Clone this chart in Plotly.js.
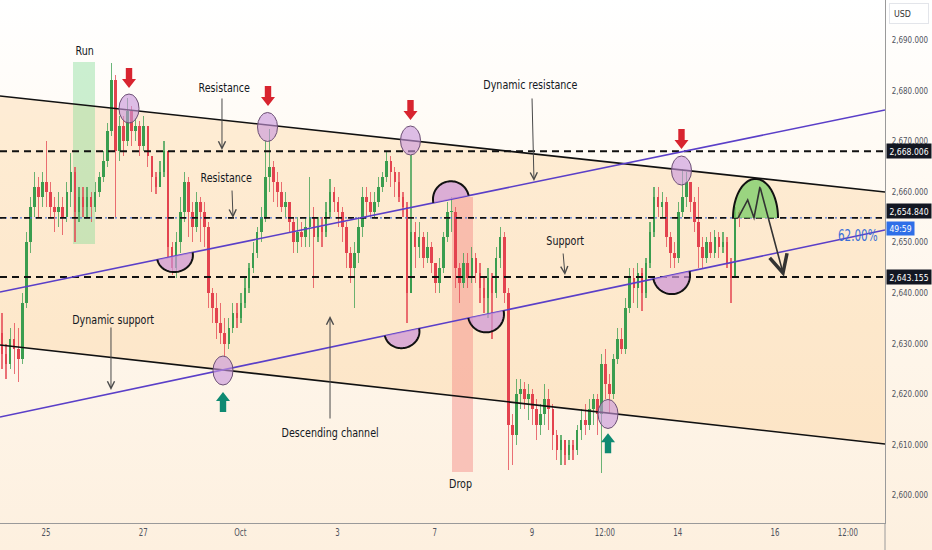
<!DOCTYPE html>
<html><head><meta charset="utf-8">
<script src="https://cdn.plot.ly/plotly-3.0.1.min.js"></script>
<style>
html,body{margin:0;padding:0;background:#fff;}
#chart{width:932px;height:550px;background:linear-gradient(to bottom,#ffffff 0%,#fffbf5 25%,#fdf0df 100%);}
</style></head><body><div id="chart"></div>
<script>
// ---------------- DATA ----------------
// x axis: trading-day index (0 = 25 Sep), weekends removed
const tickDays = [0, 2, 4, 6, 8, 10, 11.5, 13, 15, 16.5];
const tickLabels = ['25', '27', 'Oct', '3', '7', '9', '12:00', '14', '16', '12:00'];
const priceTicks = [2600, 2610, 2620, 2630, 2640, 2650, 2660, 2670, 2680, 2690];

// 2-hour candles (XAUUSD)
const firstBarDay = -0.9053;
const barsPerDay = 12;
const firstOpen = 2632;
const closes = [
 2628,2626,2631,2629,2627,2638,2650,2657,2661,2659,
 2662,2660,2657,2656,2657,2655,2660,2664,2656,2659,
 2657,2659,2657,2660,2663,2666,2672,2682,2668,2673,
 2670,2676,2672,2673,2669,2673,2667,2663,2661,2664,
 2668,2649,2645,2650,2656,2662,2656,2653,2658,2656,
 2653,2640,2637,2634,2632,2630,2633,2636,2635,2638,
 2641,2645,2648,2652,2655,2663,2665,2662,2660,2657,
 2658,2654,2650,2652,2651,2653,2655,2651,2653,2652,
 2656,2660,2658,2656,2653,2648,2645,2648,2653,2659,
 2658,2656,2658,2661,2663,2666,2664,2662,2659,2657,
 2640,2652,2649,2651,2647,2649,2646,2642,2645,2651,
 2656,2656,2645,2642,2646,2643,2647,2644,2641,2639,
 2643,2640,2647,2651,2640,2614,2612,2620,2621,2619,
 2620,2617,2614,2616,2619,2617,2612,2609,2611,2608,
 2610,2609,2613,2615,2614,2617,2619,2616,2626,2622,
 2620,2627,2631,2629,2637,2643,2641,2644,2640,2646,
 2652,2659,2657,2658,2651,2648,2647,2656,2659,2662,
 2658,2654,2649,2647,2650,2648,2651,2649,2650,2646,
 2643,2656,2654.84
];
const highs = [
 2636,2630,2633,2634,2633,2640,2652,2659,2664,2663,
 2664,2670,2662,2659,2660,2659,2662,2667.7,2665,2661,
 2661,2661,2660,2662,2664,2668,2673.5,2685.5,2683,2675,
 2675,2678.5,2677,2674.5,2674,2675,2673,2667,2664,2666,
 2670,2668,2650,2652,2659,2664,2663,2658,2660,2659,
 2658,2654,2641,2640,2638,2635,2635,2638,2638,2640,
 2643,2646,2650,2653,2657,2670,2672.5,2666,2664,2662,
 2660,2658,2655,2655,2654,2655,2663,2657,2655,2655,
 2658,2662.5,2661,2659,2657,2654,2649,2650,2655,2661,
 2661,2660,2660,2663,2664,2668,2667,2665,2664,2660,
 2658,2667.3,2654,2654,2652,2652,2650,2646,2647,2652,
 2658,2659,2657,2646,2648,2648,2649,2648,2646,2643,
 2645,2644,2649,2653,2652,2641,2616,2623,2623,2622.5,
 2622,2621,2619,2618,2622,2621,2618,2613,2612,2611,
 2611,2611,2614,2617,2618,2619,2620,2620,2628,2629,
 2624,2628,2633,2633,2639,2645,2645,2646,2645,2647,
 2654,2661,2661,2660,2659,2652,2650,2658,2664.5,2664,
 2662,2659,2661,2651,2651,2652,2652.5,2652,2652,2651,
 2647,2657,2656.5
];
const lows = [
 2625,2623,2625,2624,2622.5,2626,2637,2648,2655,2655,
 2657,2657,2655,2652,2653,2651.5,2654,2657,2650,2654,
 2655,2655,2654,2656,2659,2662,2665,2671,2655,2666,
 2667,2669,2669,2670,2667,2668,2665,2660,2659.5,2661,
 2663,2647,2643.5,2643,2648,2654,2651,2650,2652,2650,
 2649,2637,2634,2631,2630,2627.5,2629,2632,2633,2634,
 2637,2640,2644,2647,2650,2654,2660,2658,2657,2656,
 2655,2652,2648,2648,2649,2649,2649,2641,2650,2649,
 2651,2655,2656,2653,2650,2645,2642,2637,2646,2651,
 2655,2655,2655,2657,2660,2662,2661,2659,2658,2655,
 2634,2640,2645,2647,2645,2646,2644,2640,2640,2644,
 2650,2652,2641,2638,2641,2641,2642,2642,2638,2636,
 2635,2631,2639,2645,2638,2605,2606,2610,2617,2617,
 2615,2614,2611,2612,2614,2613,2609,2607,2606,2606,
 2607,2607,2608,2611,2612,2613,2614,2612,2604.5,2619,
 2616,2619,2626,2628,2628,2636,2638,2637,2636.5,2639,
 2645,2651,2655,2655,2649,2645,2645,2646,2655,2657,
 2656,2652,2645,2645,2646,2647,2647,2647,2648,2645,
 2638,2643,2653
];

// key price levels
const levelResistance = 2668.006;
const levelMid = 2654.840;
const levelSupport = 2643.155;

// ---------------- GEOMETRY ----------------
const XR = [-0.9465, 17.2634];
const YR = [2594.545, 2697.905];
const PLOT_W = 885, PLOT_H = 523;
const PXD = PLOT_W / (XR[1] - XR[0]);   // px per day
const PXP = PLOT_H / (YR[1] - YR[0]);   // px per USD
const FONT = '"Liberation Sans Narrow","DejaVu Sans Condensed","Arial Narrow",sans-serif';

const opens = closes.map((c, i) => i === 0 ? firstOpen : closes[i - 1]);
const xs = closes.map((_, i) => firstBarDay + i / barsPerDay);
const GREEN = '#3a9d4f', RED = '#e3434f';
const cols = closes.map((c, i) => c >= opens[i] ? GREEN : RED);
const bodyBase = opens.map((o, i) => Math.min(o, closes[i]));
const bodyLen = opens.map((o, i) => Math.max(Math.abs(closes[i] - o), 0.25));
const wickLen = highs.map((h, i) => h - lows[i]);

const wickTrace = {type: 'bar', x: xs, y: wickLen, base: lows, width: 1.2 / PXD,
  marker: {color: cols, opacity: 0.75, line: {width: 0}}, hoverinfo: 'skip'};
const bodyTrace = {type: 'bar', x: xs, y: bodyLen, base: bodyBase, width: 2.6 / PXD,
  marker: {color: cols, line: {width: 0}}, hoverinfo: 'skip'};

// trend lines (day, price) endpoints at the plot edges
const upperChannel = [[XR[0], 2678.93], [XR[1], 2659.96]];
const lowerChannel = [[XR[0], 2629.72], [XR[1], 2610.16]];
const upperPurple = [[XR[0], 2640.20], [XR[1], 2676.17]];
const lowerPurple = [[XR[0], 2615.49], [XR[1], 2652.45]];
const midLine = [[XR[0], levelMid], [XR[1], levelMid]];

function off(d, p, ox, oy) { return [d + ox / PXD, p + oy / PXP]; }
function pathOf(pts, close) {
  return 'M' + pts.map(q => q[0].toFixed(5) + ',' + q[1].toFixed(4)).join('L') + (close ? 'Z' : '');
}
function lineAt(line, d) {
  const [a, b] = line;
  return a[1] + (b[1] - a[1]) * (d - a[0]) / (b[0] - a[0]);
}
function halfEllipsePts(line, d, rx, ry, side) {
  const [a, b] = line;
  const pc = lineAt(line, d);
  let ux = (b[0] - a[0]) * PXD, uy = (b[1] - a[1]) * PXP;
  const L = Math.hypot(ux, uy); ux /= L; uy /= L;
  const nx = -uy * side, ny = ux * side;
  const pts = [];
  for (let k = 0; k <= 48; k++) {
    const t = Math.PI * k / 48;
    const ox = rx * Math.cos(t) * ux + ry * Math.sin(t) * nx;
    const oy = rx * Math.cos(t) * uy + ry * Math.sin(t) * ny;
    pts.push(off(d, pc, ox, oy));
  }
  return pts;
}

const shapes = [];
// channel fill
shapes.push({type: 'path', layer: 'below', line: {width: 0}, fillcolor: 'rgba(251,188,100,0.23)',
  path: pathOf([upperChannel[0], upperChannel[1], lowerChannel[1], lowerChannel[0]], true)});
// Run / Drop zones
shapes.push({type: 'rect', layer: 'below', x0: 0.5556, x1: 1.0082, y0: 2649.68, y1: 2685.65,
  fillcolor: 'rgba(130,220,150,0.42)', line: {width: 0}});
shapes.push({type: 'rect', layer: 'below', x0: 8.354, x1: 8.786, y0: 2604.62, y1: 2658.97,
  fillcolor: 'rgba(245,135,130,0.45)', line: {width: 0}});
// horizontal levels
shapes.push({type: 'line', xref: 'x', x0: XR[0], x1: XR[1], y0: levelResistance, y1: levelResistance,
  line: {color: '#111', width: 2, dash: '7px,5px'}});
shapes.push({type: 'line', xref: 'x', x0: XR[0], x1: XR[1], y0: levelSupport, y1: levelSupport,
  line: {color: '#111', width: 2, dash: '7px,5px'}});
shapes.push({type: 'line', xref: 'x', x0: XR[0], x1: XR[1], y0: levelMid, y1: levelMid,
  line: {color: '#4d74d6', width: 1.2, dash: '2px,3px'}});
shapes.push({type: 'line', xref: 'x', x0: XR[0], x1: XR[1], y0: levelMid, y1: levelMid,
  line: {color: '#111', width: 1.8, dash: '6px,6px'}});
// trend lines
[[upperChannel, '#111', 1.6], [lowerChannel, '#111', 1.6], [upperPurple, '#5a3fc8', 1.6], [lowerPurple, '#5a3fc8', 1.6]]
  .forEach(([ln, c, w]) => shapes.push({type: 'line', x0: ln[0][0], y0: ln[0][1], x1: ln[1][0], y1: ln[1][1],
    line: {color: c, width: w}}));

// half ellipses on lines
const halves = [
  [upperPurple, 2.654, 18, 16, -1], [upperPurple, 8.333, 18, 18, 1],
  [lowerPurple, 7.325, 17.5, 16, -1], [lowerPurple, 9.053, 18, 18, -1],
  [lowerPurple, 12.870, 18.5, 19, -1]
];
halves.forEach(([ln, d, rx, ry, s]) => {
  const pts = halfEllipsePts(ln, d, rx, ry, s);
  shapes.push({type: 'path', path: pathOf(pts, true), fillcolor: 'rgba(205,150,215,0.72)', line: {width: 0}});
  shapes.push({type: 'path', path: pathOf(pts, false), fillcolor: 'rgba(0,0,0,0)', line: {color: '#111', width: 2}});
});
// green projection dome
{
  const pts = halfEllipsePts(midLine, 14.599, 22.5, 39, 1);
  shapes.push({type: 'path', path: pathOf(pts, true), fillcolor: 'rgba(125,205,105,0.78)', line: {width: 0}});
  shapes.push({type: 'path', path: pathOf(pts, false), fillcolor: 'rgba(0,0,0,0)', line: {color: '#111', width: 2}});
}
// projected zigzag
const zig = [[14.239, 2654.82], [14.438, 2658.40], [14.568, 2654.88], [14.691, 2661.0]];
shapes.push({type: 'path', path: pathOf(zig, false), fillcolor: 'rgba(0,0,0,0)', line: {color: '#333', width: 1.6}});

// circles
const circles = [[1.708, 2676.46], [4.558, 2672.81], [7.500, 2670.14], [13.076, 2664.21], [3.642, 2624.68], [11.564, 2616.09]];
circles.forEach(([d, p]) => {
  const a = off(d, p, -10, -14.5), b = off(d, p, 10, 14.5);
  shapes.push({type: 'circle', x0: a[0], y0: a[1], x1: b[0], y1: b[1],
    fillcolor: 'rgba(200,150,220,0.62)', line: {color: '#6b4f73', width: 1}});
});
// block arrows
const ARROW = [[0, 0], [-7, 9], [-3.2, 9], [-3.2, 20], [3.2, 20], [3.2, 9], [7, 9]];
const redArrows = [[1.708, 2680.51], [4.568, 2676.96], [7.500, 2674.19], [13.076, 2668.46]];
const greenArrows = [[3.642, 2620.43], [11.564, 2612.3]];
redArrows.forEach(([d, p]) => shapes.push({type: 'path', line: {width: 0}, fillcolor: '#d8242f',
  path: pathOf(ARROW.map(([x, y]) => off(d, p, x, y)), true)}));
greenArrows.forEach(([d, p]) => shapes.push({type: 'path', line: {width: 0}, fillcolor: '#0f8a72',
  path: pathOf(ARROW.map(([x, y]) => off(d, p, x, -y)), true)}));
// axis continuation below plot
shapes.push({type: 'line', xref: 'paper', yref: 'paper', x0: 1, x1: 1, y0: 0, y1: -0.06, line: {color: '#9a9a9a', width: 1}});

// ---------------- ANNOTATIONS ----------------
const ann = [];
function label(t, d, p, size, color) {
  ann.push({text: t, x: d, y: p, showarrow: false, xanchor: 'center', yanchor: 'middle',
    font: {family: FONT, size: size || 12.5, color: color || '#131722'}});
}
label('Run', 0.802, 2687.83);
label('Drop', 8.539, 2602.45);
label('Resistance', 3.683, 2680.71);
label('Resistance', 3.724, 2662.92);
label('Dynamic resistance', 9.979, 2681.11);
label('Support', 10.679, 2650.47);
label('Dynamic support', 1.379, 2634.86);
label('Descending channel', 5.844, 2612.53);
label('62.00%', 16.708, 2651.26, 15, '#3b6fd6');

function thinArrow(tip, tail, col, w, head, size) {
  ann.push({text: '', x: tip[0], y: tip[1], ax: tail[0], ay: tail[1], axref: 'x', ayref: 'y',
    showarrow: true, arrowhead: head || 5, arrowsize: size || 1.4, arrowwidth: w || 1, arrowcolor: col || '#4a4a4a', standoff: 0, startstandoff: 0});
}
thinArrow([3.621, 2668.26], [3.621, 2678.74]);
thinArrow([3.848, 2654.82], [3.827, 2660.55]);
thinArrow([10.041, 2662.13], [10.000, 2678.74]);
thinArrow([10.679, 2643.56], [10.638, 2648.10]);
thinArrow([1.337, 2620.83], [1.337, 2633.48]);
thinArrow([5.844, 2635.45], [5.844, 2614.90]);
thinArrow([15.185, 2643.22], [14.691, 2661.0], '#333', 1.6, 5, 2.2);

// right scale boxes
function priceBox(t, p, bg, shift) {
  ann.push({text: t, xref: 'paper', x: 886 / PLOT_W, xanchor: 'left', y: p, yanchor: 'middle', yshift: shift || 0,
    showarrow: false, bgcolor: bg, borderpad: 1.5, width: 41,
    font: {family: FONT, size: 9.2, color: '#fff'}});
}
priceBox('2,668.006', levelResistance, '#131722', 0);
priceBox('2,654.840', levelMid, '#131722', 7);
priceBox('2,643.155', levelSupport, '#131722', 0);
ann.push({text: '49:59', xref: 'paper', x: 886 / PLOT_W, xanchor: 'left', y: levelMid, yanchor: 'middle', yshift: -11,
  showarrow: false, bgcolor: '#2f6fe8', borderpad: 1, width: 25, font: {family: FONT, size: 9.2, color: '#fff'}});
ann.push({text: 'USD', xref: 'paper', yref: 'paper', x: 889 / PLOT_W, xanchor: 'left', y: 1 - 14 / PLOT_H, yanchor: 'middle',
  showarrow: false, bgcolor: '#ffffff', bordercolor: '#e3e5ea', borderwidth: 1, borderpad: 4, width: 30, align: 'left',
  font: {family: FONT, size: 9.5, color: '#333'}});

const layout = {
  width: 932, height: 550,
  margin: {l: 0, r: 47, t: 0, b: 27, pad: 0},
  paper_bgcolor: 'rgba(0,0,0,0)', plot_bgcolor: 'rgba(0,0,0,0)',
  showlegend: false, barmode: 'overlay', bargap: 0,
  xaxis: {type: 'linear', range: XR, tickmode: 'array', tickvals: tickDays, ticktext: tickLabels,
    showgrid: false, zeroline: false, showline: true, linecolor: '#9a9a9a', linewidth: 1, ticks: '',
    tickfont: {family: FONT, size: 10, color: '#50535e'}, fixedrange: true},
  yaxis: {side: 'right', range: YR, tickmode: 'array', tickvals: priceTicks, tickformat: ',.3f',
    showgrid: false, zeroline: false, showline: true, linecolor: '#9a9a9a', linewidth: 1, ticks: '',
    ticklabelstandoff: 4, tickfont: {family: FONT, size: 8.8, color: '#50535e'}, fixedrange: true},
  shapes: shapes, annotations: ann
};

// horizontal squeeze factors to mimic the narrow typeface of the reference
const squeezeFor = {ytick: 0.9, xtick: 0.78, label: 0.85, pct: 0.77, box: 0.93};
Plotly.newPlot('chart', [wickTrace, bodyTrace], layout, {staticPlot: true, displayModeBar: false}).then(gd => {
  const squeeze = (el, f) => {
    const L = el.getComputedTextLength();
    if (L > 0) { el.setAttribute('textLength', (L * f).toFixed(2)); el.setAttribute('lengthAdjust', 'spacingAndGlyphs'); }
  };
  gd.querySelectorAll('.ytick text').forEach(t => squeeze(t, squeezeFor.ytick));
  gd.querySelectorAll('.xtick text').forEach(t => squeeze(t, squeezeFor.xtick));
  gd.querySelectorAll('text.annotation-text').forEach(t => {
    const s = t.textContent;
    if (s === '62.00%') squeeze(t, squeezeFor.pct);
    else if (/^[0-9,.:]+$/.test(s) || s === 'USD') squeeze(t, squeezeFor.box);
    else squeeze(t, squeezeFor.label);
  });
});
</script></body></html>
